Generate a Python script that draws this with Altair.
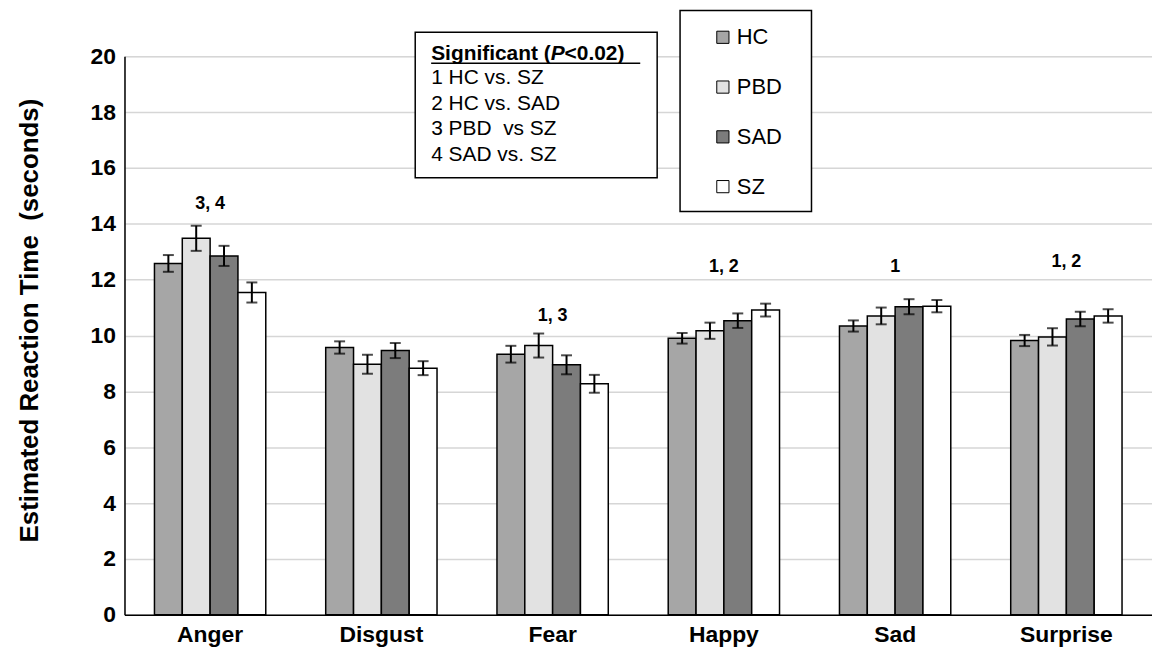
import altair as alt
import pandas as pd

# ---- data ----
categories = ["Anger", "Disgust", "Fear", "Happy", "Sad", "Surprise"]
groups = ["HC", "PBD", "SAD", "SZ"]

hc = [12.58, 9.57, 9.33, 9.90, 10.34, 9.82]
pbd = [13.48, 8.97, 9.64, 10.17, 10.70, 9.95]
sad = [12.85, 9.46, 8.95, 10.53, 11.03, 10.59]
sz = [11.54, 8.83, 8.27, 10.91, 11.05, 10.70]

hc_err = [0.30, 0.22, 0.30, 0.19, 0.20, 0.20]
pbd_err = [0.45, 0.34, 0.43, 0.29, 0.30, 0.31]
sad_err = [0.36, 0.27, 0.34, 0.26, 0.27, 0.26]
sz_err = [0.36, 0.25, 0.32, 0.23, 0.22, 0.24]

sig_emotions = ["Anger", "Fear", "Happy", "Sad", "Surprise"]
sig_labels = ["3, 4", "1, 3", "1, 2", "1", "1, 2"]
sig_heights = [14.69, 10.70, 12.44, 12.44, 12.62]

y_ticks = [0, 2, 4, 6, 8, 10, 12, 14, 16, 18, 20]

sig_title = ["Significant (", "P", "<0.02)"]
sig_lines = ["1 HC vs. SZ", "2 HC vs. SAD", "3 PBD\u00a0 vs SZ", "4 SAD vs. SZ"]

fills = ["#a6a6a6", "#e2e2e2", "#7c7c7c", "#ffffff"]
FONT = "Liberation Sans"

# ---- tables ----
rows = []
for g, vals, errs in zip(groups, [hc, pbd, sad, sz], [hc_err, pbd_err, sad_err, sz_err]):
    for c, v, e in zip(categories, vals, errs):
        rows.append({"Emotion": c, "Group": g, "Value": v, "Low": v - e, "High": v + e})
df = pd.DataFrame(rows)
ann = pd.DataFrame({"Emotion": sig_emotions, "Label": sig_labels, "Y": sig_heights})
one = pd.DataFrame({"k": [0]})

x_enc = alt.X(
    "Emotion:N",
    sort=categories,
    scale=alt.Scale(domain=categories, paddingInner=0.35, paddingOuter=0.175),
    axis=alt.Axis(title=None, labelAngle=0, labelFontSize=23, labelFontWeight="bold",
                  labelFont=FONT, labelColor="black", labelPadding=9, ticks=False,
                  domainColor="black", domainWidth=1.5, grid=False),
)
xo_enc = alt.XOffset("Group:N", sort=groups,
                     scale=alt.Scale(domain=groups, paddingInner=0, paddingOuter=0))
y_scale = alt.Scale(domain=[0, 20], nice=False)

base = alt.Chart(df)

bars = base.mark_bar(stroke="black", strokeWidth=1.5).encode(
    x=x_enc,
    xOffset=xo_enc,
    y=alt.Y("Value:Q", scale=y_scale,
            axis=alt.Axis(values=y_ticks, title="Estimated Reaction Time\u00a0 (seconds)",
                          labelFontSize=23, labelFontWeight="bold", labelFont=FONT,
                          labelColor="black", labelPadding=9, ticks=False,
                          domainColor="black", domainWidth=1.5,
                          gridColor="#d6d6d6", gridWidth=1.5,
                          titleFont=FONT, titleFontSize=26, titleFontWeight="bold",
                          titleColor="black", titleAngle=-90, titleX=-95, titleY=265,
                          titleAlign="center", titleBaseline="middle")),
    color=alt.Color("Group:N", sort=groups,
                    scale=alt.Scale(domain=groups, range=fills),
                    legend=alt.Legend(title=None, orient="none", legendX=590, legendY=-30,
                                      padding=0, rowPadding=28, labelFontSize=22,
                                      labelFont=FONT, labelColor="black",
                                      symbolType="square", symbolSize=150,
                                      symbolStrokeColor="black", symbolStrokeWidth=1,
                                      labelOffset=3)),
)

err = base.mark_rule(color="black", strokeWidth=2).encode(
    x=alt.X("Emotion:N", sort=categories), xOffset=xo_enc,
    y=alt.Y("Low:Q", scale=y_scale), y2="High:Q")
cap_lo = base.mark_tick(color="black", thickness=2, size=11, orient="horizontal").encode(
    x=alt.X("Emotion:N", sort=categories), xOffset=xo_enc,
    y=alt.Y("Low:Q", scale=y_scale))
cap_hi = base.mark_tick(color="black", thickness=2, size=11, orient="horizontal").encode(
    x=alt.X("Emotion:N", sort=categories), xOffset=xo_enc,
    y=alt.Y("High:Q", scale=y_scale))

annot = alt.Chart(ann).mark_text(font=FONT, fontSize=18, fontWeight="bold", color="black",
                                 baseline="middle").encode(
    x=alt.X("Emotion:N", sort=categories),
    y=alt.Y("Y:Q", scale=y_scale),
    text="Label:N")

# legend frame
legend_box = alt.Chart(one).mark_rect(fill="white", stroke="black", strokeWidth=1.5).encode(
    x=alt.value(558), x2=alt.value(690), y=alt.value(-46), y2=alt.value(156))

# significance box
box = alt.Chart(one).mark_rect(fill="white", stroke="black", strokeWidth=1.5).encode(
    x=alt.value(292), x2=alt.value(535), y=alt.value(-24), y2=alt.value(122))
t1 = alt.Chart(one).mark_text(font=FONT, fontSize=21, fontWeight="bold", align="left",
                              baseline="alphabetic", color="black", text=sig_title[0]).encode(
    x=alt.value(308), y=alt.value(4))
t2 = alt.Chart(one).mark_text(font=FONT, fontSize=21, fontWeight="bold", fontStyle="italic",
                              align="left", baseline="alphabetic", color="black",
                              text=sig_title[1]).encode(x=alt.value(428), y=alt.value(4))
t3 = alt.Chart(one).mark_text(font=FONT, fontSize=21, fontWeight="bold", align="left",
                              baseline="alphabetic", color="black", text=sig_title[2]).encode(
    x=alt.value(442), y=alt.value(4))
uline = alt.Chart(one).mark_rule(color="black", strokeWidth=1.5).encode(
    x=alt.value(308), x2=alt.value(518), y=alt.value(7))
body = alt.Chart(one).mark_text(font=FONT, fontSize=21, align="left", baseline="alphabetic",
                                color="black", lineBreak="\n", lineHeight=25.6,
                                text="\n".join(sig_lines)).encode(
    x=alt.value(308), y=alt.value(28))

chart = alt.layer(bars, err, cap_lo, cap_hi, annot, legend_box, box, uline, t1, t2, t3,
                  body).properties(
    width=1032, height=561,
    autosize=alt.AutoSizeParams(type="none"),
    padding={"left": 117, "top": 47, "right": 0, "bottom": 40},
).configure_view(stroke=None).configure(background="white")

chart.save("out.html", embed_options={"renderer": "svg", "actions": False})
